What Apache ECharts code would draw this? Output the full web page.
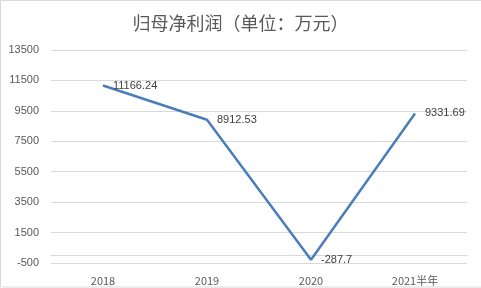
<!DOCTYPE html>
<html><head><meta charset="utf-8">
<script src="https://cdn.jsdelivr.net/npm/echarts@6/dist/echarts.min.js"></script>
<style>html,body{margin:0;padding:0;background:#fff}#c{width:481px;height:288px}</style>
</head><body><div id="c"></div>
<script>
const categories = ['2018', '2019', '2020', '2021半年'];
const profitValues = [11166.24, 8912.53, -287.7, 9331.69];
const yMin = -500, yMax = 13500, yStep = 2000;

const chart = echarts.init(document.getElementById('c'), null, {renderer: 'canvas'});
chart.setOption({
  animation: false,
  backgroundColor: '#ffffff',
  title: {
    text: '归母净利润（单位：万元）',
    left: 'center', top: 9,
    textStyle: {fontSize: 18, fontWeight: 'normal', color: '#595959', fontFamily: 'Noto Sans CJK SC'}
  },
  graphic: [{
    type: 'rect', shape: {x: 0.5, y: 0.5, width: 490, height: 286.5},
    style: {fill: 'none', stroke: '#d9d9d9', lineWidth: 1}, silent: true
  }],
  grid: {left: 51, right: 14, top: 50, bottom: 25},
  xAxis: {
    type: 'category', data: categories, boundaryGap: true,
    axisLine: {onZero: true, lineStyle: {color: '#d9d9d9', width: 1}},
    axisTick: {show: false},
    axisLabel: {margin: 12, fontSize: 11, color: '#595959', fontFamily: 'Noto Sans CJK SC'}
  },
  yAxis: {
    type: 'value', min: yMin, max: yMax, interval: yStep,
    axisLine: {show: false}, axisTick: {show: false},
    splitLine: {lineStyle: {color: '#d9d9d9', width: 1}},
    axisLabel: {margin: 12, fontSize: 11, color: '#595959', fontFamily: 'Liberation Sans',
      formatter: v => String(v)}
  },
  series: [{
    type: 'line', data: profitValues, symbol: 'circle', symbolSize: 2, showSymbol: true,
    itemStyle: {color: 'rgba(0,0,0,0)', borderWidth: 0},
    lineStyle: {color: '#4a7ebb', width: 2.5},
    label: {
      show: true, position: 'right', distance: 9,
      fontSize: 11, color: '#404040', fontFamily: 'Liberation Sans',
      formatter: p => String(p.value)
    }
  }]
});
</script></body></html>
